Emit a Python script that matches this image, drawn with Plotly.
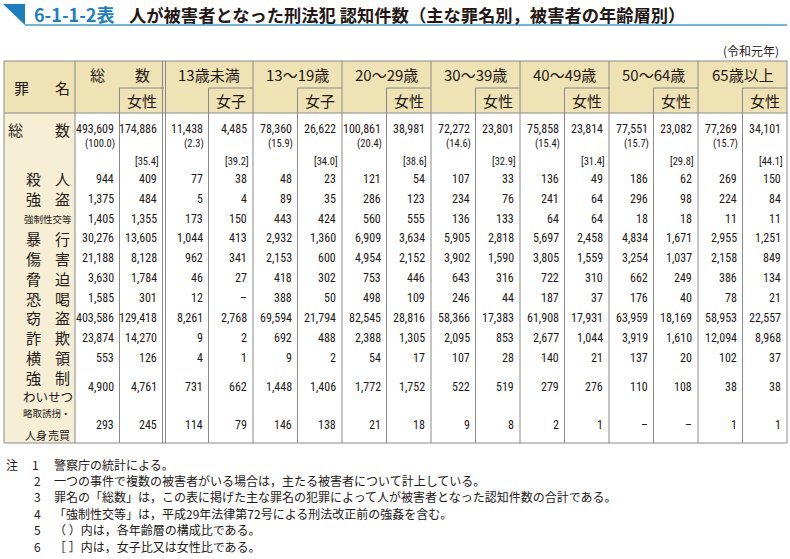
import plotly.graph_objects as go

# 罪名と年齢層
crimes = ["総数", "殺人", "強盗", "強制性交等", "暴行", "傷害", "脅迫", "恐喝",
          "窃盗", "詐欺", "横領", "強制わいせつ", "略取誘拐・人身売買"]
age_groups = ["総数", "13歳未満", "13～19歳", "20～29歳", "30～39歳",
              "40～49歳", "50～64歳", "65歳以上"]
female_labels = ["女性", "女子", "女子", "女性", "女性", "女性", "女性", "女性"]

# 各行 = 年齢層ごとに [総数, 女性]、None は「－」
all_crimes = [493609, 174886, 11438, 4485, 78360, 26622, 100861, 38981,
              72272, 23801, 75858, 23814, 77551, 23082, 77269, 34101]
murder = [944, 409, 77, 38, 48, 23, 121, 54, 107, 33, 136, 49, 186, 62, 269, 150]
robbery = [1375, 484, 5, 4, 89, 35, 286, 123, 234, 76, 241, 64, 296, 98, 224, 84]
rape = [1405, 1355, 173, 150, 443, 424, 560, 555, 136, 133, 64, 64, 18, 18, 11, 11]
assault = [30276, 13605, 1044, 413, 2932, 1360, 6909, 3634,
           5905, 2818, 5697, 2458, 4834, 1671, 2955, 1251]
injury = [21188, 8128, 962, 341, 2153, 600, 4954, 2152,
          3902, 1590, 3805, 1559, 3254, 1037, 2158, 849]
intimidation = [3630, 1784, 46, 27, 418, 302, 753, 446, 643, 316, 722, 310, 662, 249, 386, 134]
extortion = [1585, 301, 12, None, 388, 50, 498, 109, 246, 44, 187, 37, 176, 40, 78, 21]
theft = [403586, 129418, 8261, 2768, 69594, 21794, 82545, 28816,
         58366, 17383, 61908, 17931, 63959, 18169, 58953, 22557]
fraud = [23874, 14270, 9, 2, 692, 488, 2388, 1305, 2095, 853, 2677, 1044, 3919, 1610, 12094, 8968]
embezzlement = [553, 126, 4, 1, 9, 2, 54, 17, 107, 28, 140, 21, 137, 20, 102, 37]
indecency = [4900, 4761, 731, 662, 1448, 1406, 1772, 1752, 522, 519, 279, 276, 110, 108, 38, 38]
kidnapping = [293, 245, 114, 79, 146, 138, 21, 18, 9, 8, 2, 1, None, None, 1, 1]

share_pct = [100.0, 2.3, 15.9, 20.4, 14.6, 15.4, 15.7, 15.7]    # ( ) 構成比
female_pct = [35.4, 39.2, 34.0, 38.6, 32.9, 31.4, 29.8, 44.1]   # [ ] 女子比・女性比

notes = [
    "警察庁の統計による。",
    "一つの事件で複数の被害者がいる場合は，主たる被害者について計上している。",
    "罪名の「総数」は，この表に掲げた主な罪名の犯罪によって人が被害者となった認知件数の合計である。",
    "「強制性交等」は，平成29年法律第72号による刑法改正前の強姦を含む。",
    "（ ）内は，各年齢層の構成比である。",
    "［ ］内は，女子比又は女性比である。",
]

rows = [all_crimes, murder, robbery, rape, assault, injury, intimidation,
        extortion, theft, fraud, embezzlement, indecency, kidnapping]

# ---- レイアウト ----
W, H = 790, 559
JP = "Noto Sans CJK JP"
NUM = "Roboto Condensed, Liberation Sans, Arial, sans-serif"
INK = "#231815"
LINE = "#8a8a8a"
BLUE = "#1a7fc1"
HEAD_BG = "#efe3b5"
COL_BG = "#f6efd6"

X0, XL, XR = 4, 75, 787
CW = (XR - XL) / 16
Y_TOP, Y_MID, Y_HEAD = 61, 88, 113
row_h = [56] + [19.85] * 10 + [39, 36.5]
row_top = [Y_HEAD]
for h in row_h:
    row_top.append(row_top[-1] + h)
Y_BOT = row_top[-1]

shapes = []
ann = []


def line(x0, y0, x1, y1, color=LINE, width=1):
    shapes.append(dict(type="line", xref="x", yref="y", x0=x0, y0=y0, x1=x1, y1=y1,
                       line=dict(color=color, width=width)))


def text(x, y, s, size, xanchor="center", color=INK, family=JP):
    ann.append(dict(x=x, y=y, xref="x", yref="y", text=s, showarrow=False,
                    xanchor=xanchor, yanchor="middle", borderpad=0,
                    font=dict(size=size, color=color, family=family)))


def spread(s, xl, xr, y, size):
    n = len(s)
    step = (xr - xl - size) / (n - 1)
    for i, ch in enumerate(s):
        text(xl + size / 2 + i * step, y, ch, size)


def fmt(v):
    return "–" if v is None else f"{v:,}"


# タイトル
shapes.append(dict(type="path", xref="x", yref="y", path="M 3 4 L 25 4 L 25 25 Z",
                   fillcolor=BLUE, line=dict(width=0)))
line(25, 25, XR, 25, color="#3b9fd3", width=1.5)
text(33, 14, "<b>6-1-1-2表</b>", 18, xanchor="left", color=BLUE)
text(128, 14, "<b>人が被害者となった刑法犯 認知件数（主な罪名別，被害者の年齢層別）</b>",
     17.3, xanchor="left")
text(780, 50, "(令和元年)", 12, xanchor="right")

# 背景
shapes.append(dict(type="rect", xref="x", yref="y", x0=X0, y0=Y_TOP, x1=XR, y1=Y_HEAD,
                   fillcolor=HEAD_BG, line=dict(width=0), layer="below"))
shapes.append(dict(type="rect", xref="x", yref="y", x0=X0, y0=Y_HEAD, x1=XL, y1=Y_BOT,
                   fillcolor=COL_BG, line=dict(width=0), layer="below"))

# 罫線
line(X0, Y_TOP, XR, Y_TOP)
line(X0, Y_HEAD, XR, Y_HEAD)
line(X0, Y_BOT, XR, Y_BOT)
line(X0, Y_TOP, X0, Y_BOT)
line(XL, Y_TOP, XL, Y_BOT)
for g in range(len(age_groups)):
    gl = XL + 2 * g * CW
    gm = gl + CW
    gr = gl + 2 * CW
    if g == 0:
        line(gr - 1.5, Y_TOP, gr - 1.5, Y_BOT)
        line(gr + 1.5, Y_TOP, gr + 1.5, Y_BOT)
    else:
        line(gr, Y_TOP, gr, Y_BOT)
    line(gm, Y_MID, gm, Y_BOT)
    line(gm, Y_MID, gr, Y_MID)

# 見出し
spread("罪名", 14, 70, (Y_TOP + Y_HEAD) / 2, 15)
for g, name in enumerate(age_groups):
    gl = XL + 2 * g * CW
    yc = (Y_TOP + Y_MID) / 2
    if g == 0:
        spread(name, gl + 15, gl + 2 * CW - 14, yc, 15)
    else:
        text(gl + CW, yc, name, 15)
    text(gl + 1.5 * CW, (Y_MID + Y_HEAD) / 2, female_labels[g], 15)

# 罪名ラベル
for r, crime in enumerate(crimes):
    y0, y1 = row_top[r], row_top[r + 1]
    yc = (y0 + y1) / 2
    if r == 0:
        spread(crime, 8, 70, 129, 15)
    elif crime == "強制性交等":
        text(48, yc, crime, 9.5)
    elif crime == "強制わいせつ":
        spread(crime[:2], 26, 70, yc - 10, 15)
        text(48, yc + 9, crime[2:], 12.5)
    elif crime == "略取誘拐・人身売買":
        text(47, yc - 12, crime[:5], 9.5)
        spread(crime[5:], 25, 70, yc + 10, 11)
    else:
        spread(crime, 26, 70, yc, 15)

# 数値
for r, vals in enumerate(rows):
    yc = 129 if r == 0 else (row_top[r] + row_top[r + 1]) / 2
    for c, v in enumerate(vals):
        cr = XL + (c + 1) * CW
        if c == 1:
            cr -= 1.5
        text(cr - 5, yc, fmt(v), 12, xanchor="right", family=NUM)
for g in range(len(age_groups)):
    gl = XL + 2 * g * CW
    text(gl + CW - 4, 143, f"({share_pct[g]:.1f})", 10.5, xanchor="right", family=NUM)
    fr = gl + 2 * CW - (3 if g else 4.5)
    text(fr, 161, f"[{female_pct[g]:.1f}]", 10.5, xanchor="right", family=NUM)

# 注
for i, note in enumerate(notes):
    y = 464 + 16.4 * i
    if i == 0:
        text(5, y, "注", 12, xanchor="left")
    text(31 if i == 0 else 33, y, str(i + 1), 12, xanchor="left")
    text(53, y, note, 12, xanchor="left")

fig = go.Figure(go.Scatter(x=[0, W], y=[0, H], mode="markers",
                           marker=dict(opacity=0), hoverinfo="skip", showlegend=False))
fig.update_layout(
    width=W, height=H, margin=dict(l=0, r=0, t=0, b=0),
    paper_bgcolor="white", plot_bgcolor="white",
    xaxis=dict(range=[0, W], visible=False, fixedrange=True),
    yaxis=dict(range=[H, 0], visible=False, fixedrange=True),
    shapes=shapes, annotations=ann,
)
fig.write_html("out.html", config={"displayModeBar": False},
               post_script="document.body.style.margin = '0';")
